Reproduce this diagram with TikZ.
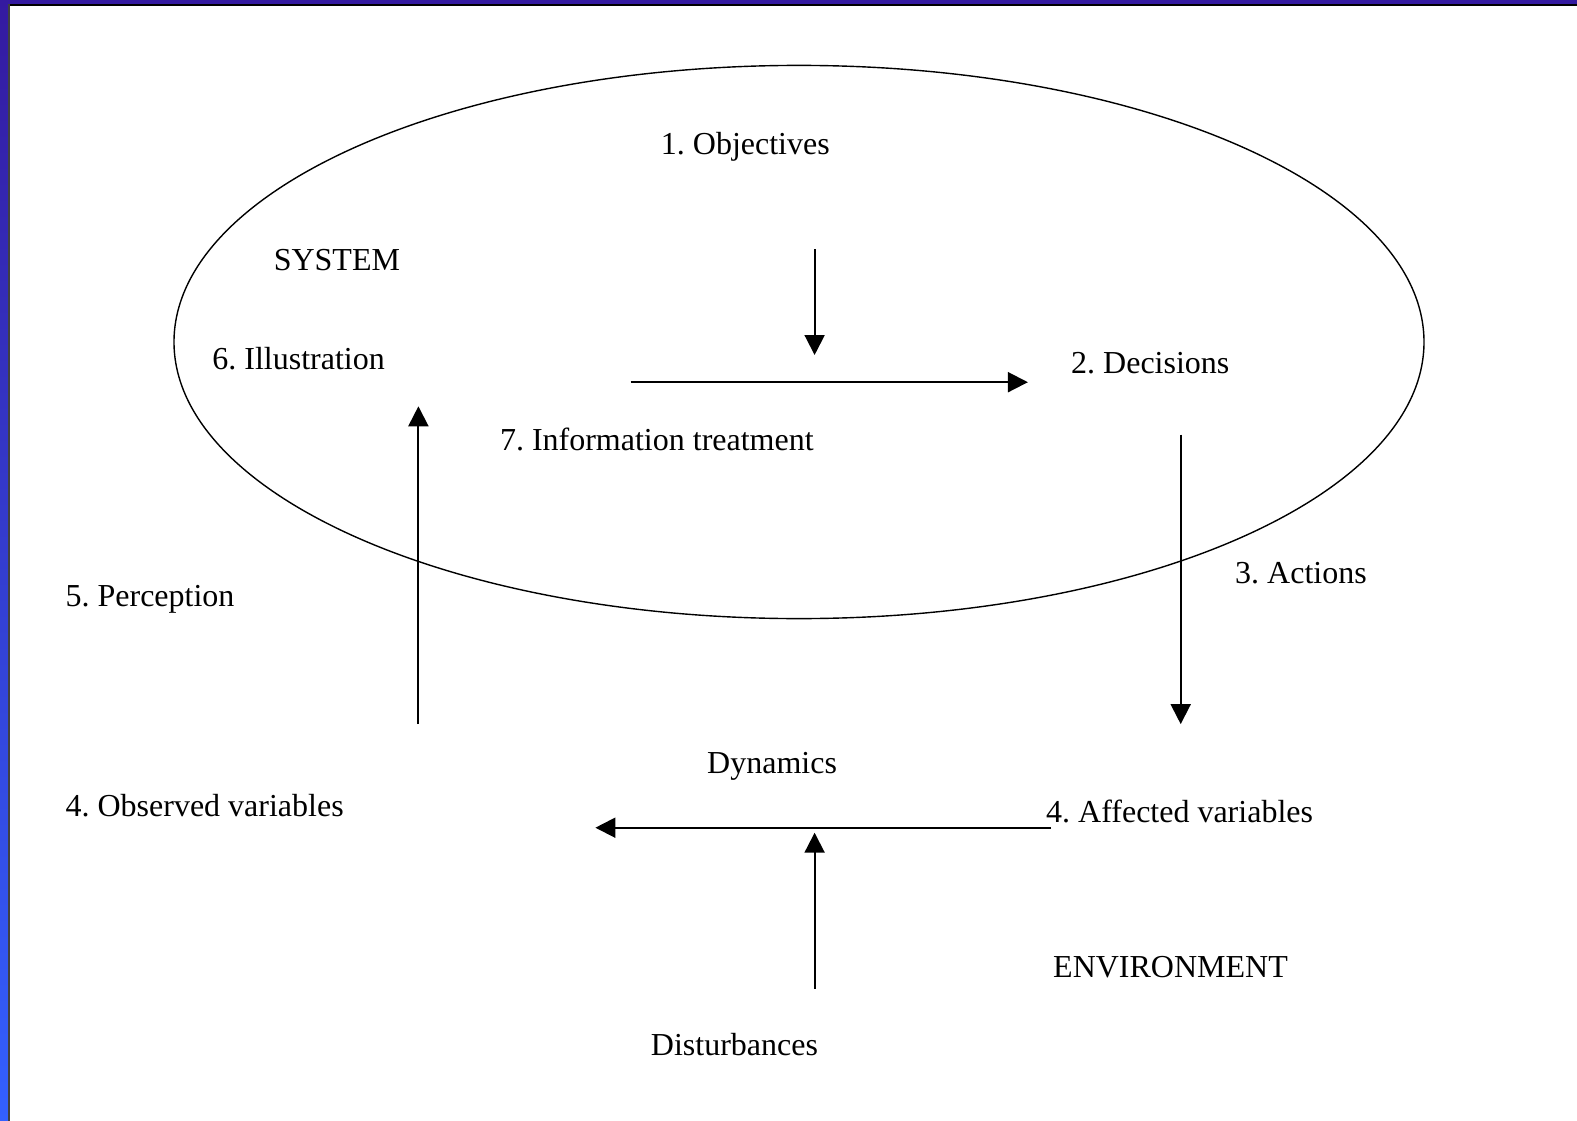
\documentclass[tikz,border=0pt]{standalone}
\usepackage{fontspec}
\setmainfont{Liberation Serif}
\usetikzlibrary{arrows.meta}
\frenchspacing
\definecolor{bardark}{RGB}{52,26,160}
\definecolor{barlight}{RGB}{51,96,255}
\tikzset{
  lbl/.style={anchor=base west, inner sep=0pt, font=\fontsize{32}{38}\selectfont},
  flow/.style={line width=2pt, -{Triangle[length=20pt, width=20pt]}},
}
\begin{document}
\begin{tikzpicture}[x=1pt, y=-1pt]
  \useasboundingbox (0,0) rectangle (1577,1121);
  \fill[white] (0,0) rectangle (1577,1121);
  % slide frame
  \fill[bardark] (0,0) rectangle (1577,4);
  \fill[black] (8,4) rectangle (1577,6);
  \shade[top color=bardark, bottom color=barlight] (0,0) rectangle (8,1121);
  \fill[black!75] (8,4) rectangle (10,1121);
  % system boundary
  \draw[line width=1.4pt] (799,342) ellipse [x radius=625, y radius=276.6];
  % labels
  \node[lbl] (obj) at (660.7,154.4) {1. Objectives};
  \node[lbl] (sys) at (273.6,270) {SYSTEM};
  \node[lbl] (ill) at (212.2,369.6) {6. Illustration};
  \node[lbl] (dec) at (1071,373.6) {2. Decisions};
  \node[lbl] (inf) at (499.8,450) {7. Information treatment};
  \node[lbl] (act) at (1235,583.8) {3. Actions};
  \node[lbl] (per) at (65.4,606.9) {5. Perception};
  \node[lbl] (dyn) at (707,773.9) {Dynamics};
  \node[lbl] (obs) at (65.4,816.1) {4. Observed variables};
  \node[lbl] (aff) at (1046,822.2) {4. Affected variables};
  \node[lbl] (env) at (1053,977) {ENVIRONMENT};
  \node[lbl] (dis) at (650.7,1055.6) {Disturbances};
  % connector ends
  \coordinate (objS) at (814.6,249.4);
  \coordinate (objE) at (814.6,355);
  \coordinate (infS) at (630.6,382.2);
  \coordinate (infE) at (1027.9,382.2);
  \coordinate (perS) at (418.4,724.1);
  \coordinate (perE) at (418.4,406.3);
  \coordinate (actS) at (1180.7,434.5);
  \coordinate (actE) at (1180.7,724.1);
  \coordinate (dynS) at (1051,827.7);
  \coordinate (dynE) at (595.4,827.7);
  \coordinate (disS) at (814.6,988.6);
  \coordinate (disE) at (814.6,832.7);
  % connectors
  \draw[flow] (objS) -- (objE);
  \draw[flow] (infS) -- (infE);
  \draw[flow] (perS) -- (perE);
  \draw[flow] (actS) -- (actE);
  \draw[flow] (dynS) -- (dynE);
  \draw[flow] (disS) -- (disE);
\end{tikzpicture}
\end{document}
